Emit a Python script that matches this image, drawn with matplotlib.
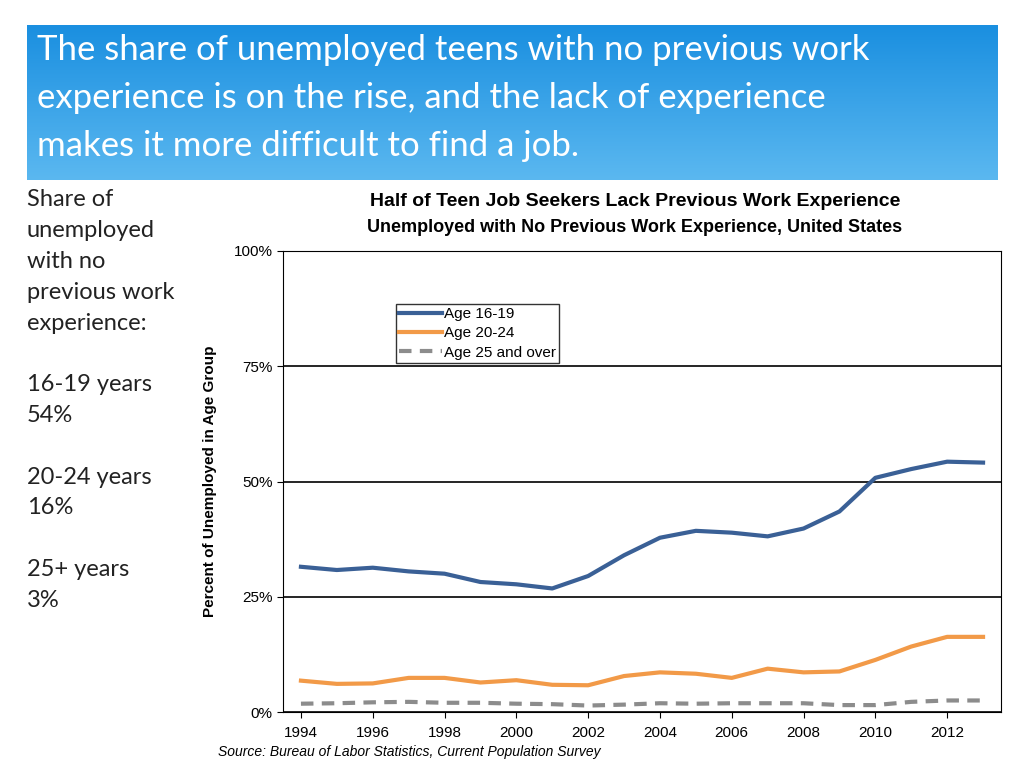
import matplotlib
matplotlib.use("Agg")
import matplotlib.pyplot as plt
import numpy as np
from matplotlib.ticker import FuncFormatter
from matplotlib.colors import LinearSegmentedColormap

plt.rcParams["font.family"] = "Liberation Sans"

years = list(range(1994, 2014))
age_16_19 = [31.5,30.8,31.3,30.5,30.0,28.2,27.7,26.8,29.5,34.0,37.8,39.3,38.9,38.1,39.8,43.5,50.8,52.7,54.3,54.1]
age_20_24 = [6.8,6.1,6.2,7.4,7.4,6.4,6.9,5.9,5.8,7.8,8.6,8.3,7.4,9.4,8.6,8.8,11.3,14.2,16.3,16.3]
age_25_up = [1.8,1.9,2.1,2.2,2.0,2.0,1.8,1.7,1.4,1.6,1.9,1.8,1.9,1.9,1.9,1.5,1.5,2.2,2.5,2.5]
x_ticks = list(range(1994, 2013, 2))
y_ticks = [0, 25, 50, 75, 100]

fig = plt.figure(figsize=(10.24, 7.68), dpi=100)

bax = fig.add_axes([27/1024, 1-180/768, 971/1024, 155/768])
grad = np.linspace(0, 1, 256).reshape(-1, 1)
cm = LinearSegmentedColormap.from_list("b", ["#1a8fe0", "#5bb8f0"])
bax.imshow(grad, aspect="auto", cmap=cm, extent=[0, 1, 0, 1])
bax.axis("off")
title_lines = ["The share of unemployed teens with no previous work",
               "experience is on the rise, and the lack of experience",
               "makes it more difficult to find a job."]
for i, line in enumerate(title_lines):
    fig.text(37/1024, 1-(50+48*i)/768, line, color="white", fontsize=25,
             family="Lato", va="center")

side_lines = ["Share of", "unemployed", "with no", "previous work", "experience:", "",
              "16-19 years", "54%", "", "20-24 years", "16%", "", "25+ years", "3%"]
for i, line in enumerate(side_lines):
    fig.text(27/1024, 1-(200+30.8*i)/768, line, fontsize=17, family="Lato",
             va="center", color="#222222")

ax = fig.add_axes([283/1024, 56/768, 718/1024, 461/768])
ax.plot(years, age_16_19, color="#3a6096", lw=3, label="Age 16-19")
ax.plot(years, age_20_24, color="#f29a48", lw=3, label="Age 20-24")
ax.plot(years, age_25_up, color="#8c8c8c", lw=3, ls=(0, (3, 2)), label="Age 25 and over")
ax.set_xlim(1993.5, 2013.5)
ax.set_ylim(0, 100)
ax.set_xticks(x_ticks)
ax.set_yticks(y_ticks)
ax.yaxis.set_major_formatter(FuncFormatter(lambda v, p: f"{int(v)}%"))
ax.grid(axis="y", color="black", lw=1.2)
ax.tick_params(labelsize=11, length=4)
ax.tick_params(axis="x", pad=6)
for s in ax.spines.values():
    s.set_color("black")
ax.set_ylabel("Percent of Unemployed in Age Group", fontsize=11, fontweight="bold", labelpad=12)
ax.legend(loc="upper left", bbox_to_anchor=(0.158, 0.885), fontsize=11, frameon=True,
          fancybox=False, edgecolor="black", handlelength=2.8, handletextpad=0.1,
          borderpad=0.2, labelspacing=0.35, borderaxespad=0)
fig.text(0.62, 1-202/768, "Half of Teen Job Seekers Lack Previous Work Experience", ha="center", va="center", fontsize=14, fontweight="bold")
fig.text(0.62, 1-227/768, "Unemployed with No Previous Work Experience, United States", ha="center", va="center", fontsize=13, fontweight="bold")
fig.text(218/1024, 1-752/768, "Source: Bureau of Labor Statistics, Current Population Survey", fontsize=10, style="italic", va="center")
fig.savefig("out.png", dpi=100)
